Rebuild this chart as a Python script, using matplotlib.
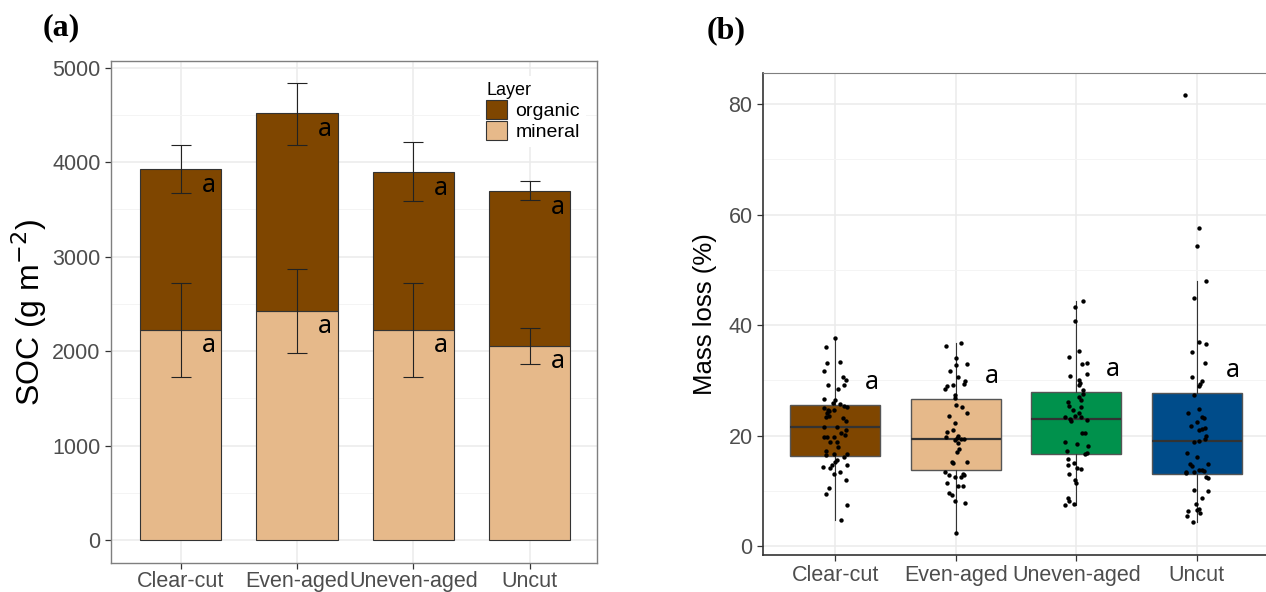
import matplotlib
matplotlib.use('Agg')
import matplotlib.pyplot as plt
from matplotlib.patches import Patch
import numpy as np

# ---- data ----
groups = ['Clear-cut', 'Even-aged', 'Uneven-aged', 'Uncut']

# (a) SOC stocks, g m-2
soc_total = [3924, 4520, 3899, 3693]
soc_mineral = [2225, 2423, 2225, 2053]
org_err_lo = [3671, 4177, 3588, 3596]
org_err_hi = [4180, 4840, 4209, 3805]
min_err_lo = [1725, 1982, 1725, 1863]
min_err_hi = [2718, 2874, 2718, 2243]
soc_letters_org = ['a', 'a', 'a', 'a']
soc_letters_min = ['a', 'a', 'a', 'a']

# (b) mass loss box stats, %
q1 = [16.3, 13.8, 16.6, 13.0]
med = [21.6, 19.3, 23.0, 19.1]
q3 = [25.6, 26.7, 27.9, 27.7]
whislo = [4.7, 2.4, 7.5, 4.4]
whishi = [37.7, 36.8, 44.4, 48.0]
loss_letters = ['a', 'a', 'a', 'a']

# individual observations (jitter offset, value)
cc_jit = [0.00, -0.08, -0.07, 0.04, -0.09, 0.06, 0.09, 0.07, -0.06, 0.02,
          -0.09, 0.00, -0.02, 0.04, 0.07, 0.10, -0.09, -0.06, -0.05, -0.07,
          -0.01, -0.08, -0.05, 0.06, 0.09, -0.09, 0.01, 0.09, 0.05, 0.08,
          -0.09, -0.07, -0.01, -0.04, 0.01, -0.08, 0.02, -0.01, 0.10, -0.08,
          0.07, 0.01, 0.00, -0.10, -0.03, -0.04, 0.10, 0.04, -0.01, 0.09,
          -0.05, -0.08, 0.10, 0.05]
cc_loss = [37.7, 36.1, 33.1, 33.3, 31.7, 30.6, 30.0, 29.1, 29.1, 28.5,
           26.7, 26.4, 25.9, 25.7, 25.3, 25.1, 25.0, 24.7, 24.4, 24.0,
           24.6, 23.4, 23.6, 23.2, 22.6, 21.6, 21.6, 21.0, 20.5, 20.1,
           19.8, 19.8, 19.7, 18.8, 18.8, 17.3, 17.9, 16.7, 16.7, 16.5,
           16.1, 15.5, 15.2, 14.4, 14.6, 14.1, 14.7, 13.4, 13.1, 12.0,
           10.6, 9.4, 7.4, 4.7]
ea_jit = [0.04, -0.08, 0.00, 0.09, 0.00, -0.05, 0.02, 0.08, 0.07, -0.02,
          -0.07, -0.09, -0.01, -0.01, 0.00, 0.05, 0.09, -0.06, -0.01, -0.07,
          -0.02, 0.02, 0.01, 0.04, -0.01, 0.07, -0.08, 0.02, 0.03, 0.01,
          -0.03, -0.02, 0.09, -0.09, -0.06, -0.01, 0.04, 0.06, 0.07, -0.07,
          0.02, 0.06, -0.06, -0.03, -0.01, 0.08, 0.00]
ea_loss = [36.8, 36.3, 34.0, 32.9, 32.7, 31.7, 30.6, 29.8, 29.4, 29.2,
           28.9, 28.5, 27.3, 26.8, 25.6, 25.2, 24.1, 23.6, 22.3, 20.6,
           21.0, 19.9, 19.6, 19.4, 19.2, 19.4, 19.8, 18.7, 17.6, 17.0,
           15.3, 15.0, 15.2, 13.5, 12.8, 12.5, 12.5, 13.1, 12.8, 11.4,
           10.9, 10.9, 9.6, 9.2, 8.1, 7.8, 2.4]
ua_jit = [0.06, -0.01, -0.01, 0.02, -0.06, 0.05, 0.09, 0.09, -0.05, 0.02,
          0.03, 0.02, 0.06, 0.06, 0.02, 0.04, -0.07, -0.06, 0.04, -0.03,
          0.02, -0.09, -0.05, -0.04, -0.01, 0.04, 0.09, 0.05, 0.07, -0.09,
          0.01, 0.10, -0.08, 0.09, 0.07, -0.07, -0.02, -0.07, 0.01, 0.04,
          -0.06, -0.01, 0.00, -0.07, -0.06, -0.02, -0.09]
ua_loss = [44.4, 43.2, 40.8, 35.3, 34.2, 32.9, 33.1, 31.1, 30.8, 30.0,
           29.6, 29.2, 28.2, 27.5, 27.0, 26.5, 26.0, 25.4, 25.2, 24.6,
           24.0, 23.4, 23.0, 22.7, 23.5, 23.3, 22.9, 20.5, 20.4, 18.9,
           18.4, 18.1, 17.3, 16.9, 16.6, 15.8, 15.1, 14.7, 14.2, 14.0,
           13.0, 11.9, 11.5, 8.8, 8.2, 7.7, 7.4]
uc_jit = [-0.10, 0.02, 0.00,
          0.08, -0.02, 0.02, 0.08, -0.04, 0.07, -0.04, 0.04, 0.03, 0.02,
          -0.02, 0.02, -0.07, 0.04, 0.06, 0.00, -0.05, 0.02, 0.04, 0.07,
          0.08, 0.07, 0.02, -0.02, -0.08, 0.00, -0.06, -0.04, 0.09, 0.02,
          0.04, -0.02, -0.09, -0.09, 0.06, 0.08, 0.09, -0.02, 0.09, 0.04,
          -0.01, 0.02, 0.00, -0.07, -0.08, 0.03, -0.03]
uc_loss = [81.7, 57.6, 54.3,
           48.0, 44.9, 36.9, 36.6, 35.2, 33.1, 30.6, 29.8, 29.4, 28.9,
           27.4, 24.9, 24.0, 23.4, 23.1, 22.5, 21.7, 21.1, 21.2, 21.4,
           19.9, 19.3, 19.1, 18.8, 16.8, 16.1, 14.9, 14.5, 14.8, 13.8,
           13.7, 13.5, 13.5, 13.2, 13.6, 12.5, 12.4, 10.1, 9.9, 8.7,
           7.7, 6.8, 6.5, 6.3, 5.5, 6.0, 4.4]

# ---- style ----
BROWN = '#7F4600'
TAN = '#E6B98A'
box_colors = [BROWN, TAN, '#00914C', '#004C8A']
TICK_GREY = '#4D4D4D'
GRID = '#EBEBEB'

plt.rcParams['font.family'] = ['Liberation Sans', 'DejaVu Sans']

fig = plt.figure(figsize=(12.66, 5.92), dpi=100)
ax_a = fig.add_axes([0.0877, 0.049, 0.3839, 0.848])
ax_b = fig.add_axes([0.6027, 0.0625, 0.3997, 0.8142])

x = np.arange(1, len(groups) + 1)
total = np.array(soc_total)
mineral = np.array(soc_mineral)
organic = total - mineral


def ggplot_frame(ax):
    ax.set_axisbelow(True)
    ax.grid(True, which='major', color=GRID, lw=1.1)
    ax.grid(True, which='minor', axis='y', color='#F4F4F4', lw=0.7)
    ax.tick_params(axis='both', which='major', colors='#333333', length=4,
                   labelsize=15.5, labelcolor=TICK_GREY, width=0.9)
    ax.tick_params(axis='both', which='minor', length=0)


# ---- (a) stacked bars ----
ax_a.bar(x, mineral, width=0.7, color=TAN, edgecolor='#333333', lw=0.8)
ax_a.bar(x, organic, bottom=mineral, width=0.7, color=BROWN,
         edgecolor='#333333', lw=0.8)
ax_a.errorbar(x, total,
              yerr=[total - np.array(org_err_lo), np.array(org_err_hi) - total],
              fmt='none', ecolor='#222222', elinewidth=0.8, capsize=7, capthick=0.8)
ax_a.errorbar(x, mineral,
              yerr=[mineral - np.array(min_err_lo), np.array(min_err_hi) - mineral],
              fmt='none', ecolor='#222222', elinewidth=0.8, capsize=7, capthick=0.8)
for xi, t, m, lo, lm in zip(x, total, mineral, soc_letters_org, soc_letters_min):
    ax_a.text(xi + 0.24, t - 175, lo, fontsize=18, family='Noto Sans',
              ha='center', va='center')
    ax_a.text(xi + 0.24, m - 165, lm, fontsize=18, family='Noto Sans',
              ha='center', va='center')

ax_a.set_xlim(0.4, 4.58)
ax_a.set_ylim(-241, 5071)
ax_a.set_yticks([0, 1000, 2000, 3000, 4000, 5000])
ax_a.set_yticks([500, 1500, 2500, 3500, 4500], minor=True)
ax_a.set_xticks(x)
ax_a.set_xticklabels(groups)
ggplot_frame(ax_a)
ax_a.tick_params(axis='x', pad=1.5)
for s in ax_a.spines.values():
    s.set_color('#7F7F7F')
    s.set_linewidth(1.0)
ax_a.set_ylabel('SOC (g m$^{-2}$)', fontsize=23, labelpad=2)

handles = [Patch(facecolor=BROWN, edgecolor='#333333', lw=0.8, label='organic'),
           Patch(facecolor=TAN, edgecolor='#333333', lw=0.8, label='mineral')]
leg = ax_a.legend(handles=handles, title='Layer', loc='upper left',
                  bbox_to_anchor=(0.74, 0.99), frameon=True, framealpha=1,
                  edgecolor='none', facecolor='white', fontsize=14,
                  title_fontsize=13, handlelength=1.05, handleheight=1.15,
                  labelspacing=0.05, handletextpad=0.45, borderpad=0.3,
                  alignment='left')

# ---- (b) box plots with jittered points ----
stats = []
for i in range(len(groups)):
    stats.append({'med': med[i], 'q1': q1[i], 'q3': q3[i],
                  'whislo': whislo[i], 'whishi': whishi[i], 'fliers': []})
bp = ax_b.bxp(stats, positions=x, widths=0.75, patch_artist=True,
              showfliers=False, showcaps=False,
              boxprops=dict(edgecolor='#555555', lw=1.0),
              whiskerprops=dict(color='#333333', lw=0.8),
              medianprops=dict(color='#333333', lw=1.6))
for patch, c in zip(bp['boxes'], box_colors):
    patch.set_facecolor(c)

for xi, jit, vals in zip(x, [cc_jit, ea_jit, ua_jit, uc_jit],
                         [cc_loss, ea_loss, ua_loss, uc_loss]):
    ax_b.scatter(xi + np.array(jit), vals, s=10, color='black', zorder=5, lw=0)

for xi, top, lab in zip(x, q3, loss_letters):
    ax_b.text(xi + 0.3, top + 4, lab, fontsize=18, family='Noto Sans',
              ha='center', va='center')

ax_b.set_xlim(0.4, 4.6)
ax_b.set_ylim(-1.6, 85.6)
ax_b.set_yticks([0, 20, 40, 60, 80])
ax_b.set_yticks([10, 30, 50, 70], minor=True)
ax_b.set_xticks(x)
ax_b.set_xticklabels(groups)
ggplot_frame(ax_b)
ax_b.spines['top'].set_color('#7F7F7F')
ax_b.spines['right'].set_color('#7F7F7F')
ax_b.spines['left'].set_color('#333333')
ax_b.spines['bottom'].set_color('#333333')
ax_b.spines['left'].set_linewidth(1.2)
ax_b.spines['bottom'].set_linewidth(1.2)
ax_b.set_ylabel('Mass loss (%)', fontsize=18.5, labelpad=8)

fig.text(0.034, 0.954, '(a)', fontsize=23, fontweight='bold',
         family='Liberation Serif', va='center')
fig.text(0.558, 0.948, '(b)', fontsize=23, fontweight='bold',
         family='Liberation Serif', va='center')

fig.savefig('out.png', dpi=100)
